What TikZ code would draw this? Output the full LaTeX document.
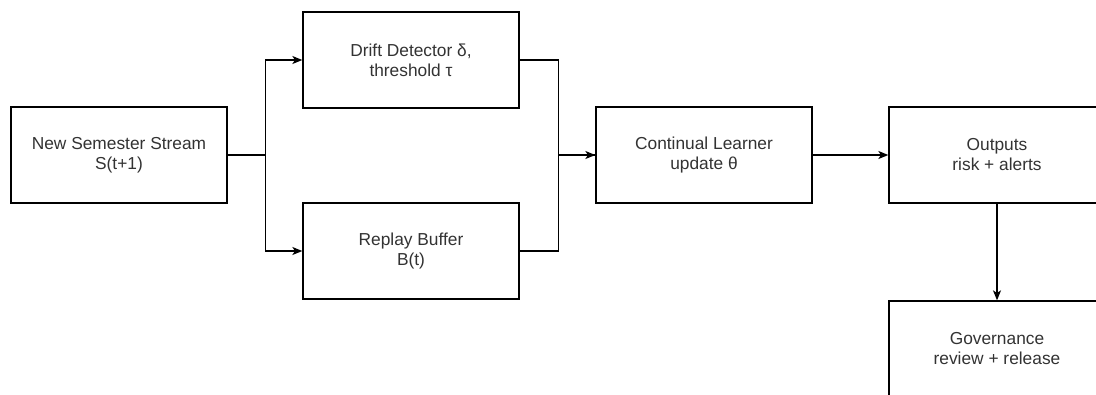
\documentclass[tikz,border=0pt]{standalone}
\usepackage{fontspec}
\setmainfont{Liberation Sans}
\usepackage{tikz, xcolor}
\usetikzlibrary{arrows.meta}

\begin{document}
\begin{tikzpicture}
					[
						x=0.75pt, y=-0.75pt,
						block/.style={draw=black, line width=1pt, fill=white, text=black!80,
							minimum width=162pt, minimum height=72pt, inner sep=0pt,
							align=center, font=\fontsize{13pt}{15pt}\selectfont},
						flow/.style={-{Stealth[length=7.5pt,width=6pt,inset=2pt]}, black, line width=1pt},
						link/.style={black, line width=1pt}
					]

					% Fix the page and cut the boxes at its edge.
					\useasboundingbox (0,0) rectangle (1096,394);
					\clip (0,0) rectangle (1096,394);

					% Draw blocks.
					\node[block] (stream) at (119,155) {New Semester Stream\\S(t+1)};
					\node[block] (drift) at (411,60) {Drift Detector δ,\\threshold τ};
					\node[block] (replay) at (411,251) {Replay Buffer\\B(t)};
					\node[block] (learner) at (704,155) {Continual Learner\\update θ};
					\node[block] (outputs) at (997,155) {Outputs\\risk + alerts};
					\node[block] (governance) at (997,349) {Governance\\review + release};

					% Split the stream.
					\draw[flow] (stream.east) -- ++(38,0) |- (drift.west);
					\draw[flow] (stream.east) -- ++(38,0) |- (replay.west);

					% Merge into the learner.
					\draw[flow] (drift.east) -- ++(39,0) |- (learner.west);
					\draw[link] (replay.east) -- ++(39,0) |- (learner.west);

					% Outputs and review.
					\draw[flow] (learner) -- (outputs);
					\draw[flow] (outputs) -- (governance);
				\end{tikzpicture}
\end{document}
